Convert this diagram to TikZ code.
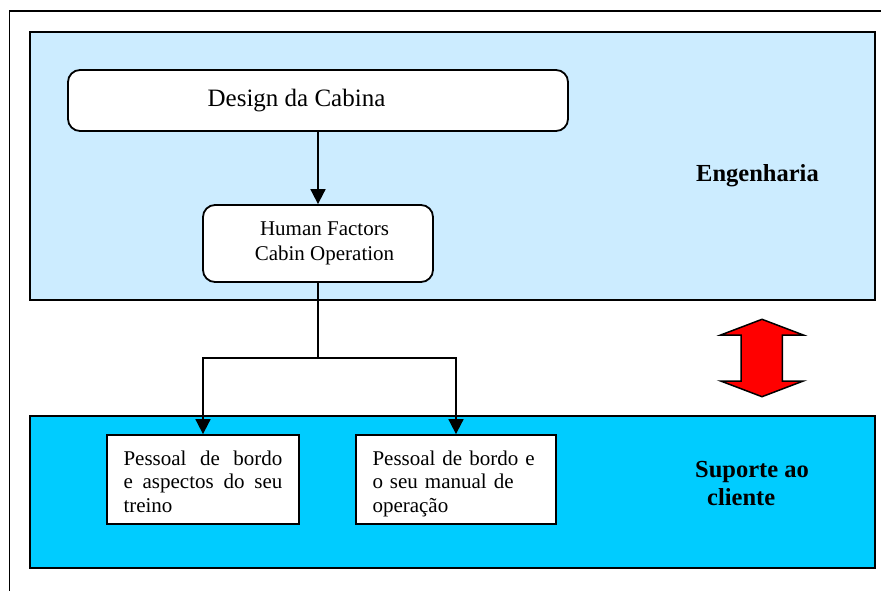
\documentclass[tikz,border=0pt]{standalone}
\usepackage{fontspec}
\setmainfont{Liberation Serif}
\usetikzlibrary{arrows.meta}
\definecolor{engblue}{HTML}{CCECFF}
\definecolor{supblue}{HTML}{00CCFF}
\begin{document}
\begin{tikzpicture}[x=1pt,y=-1pt,
  panel/.style={draw=black, line width=1.8pt, inner sep=0pt, minimum width=845pt},
  roundbox/.style={draw=black, fill=white, line width=1.8pt, rounded corners=12pt, inner sep=0pt},
  taskbox/.style={draw=black, fill=white, line width=1.8pt, inner sep=0pt,
    minimum height=89pt, align=left, text height=14pt, text depth=43pt,
    font=\fontsize{21}{23.5}\selectfont},
  flow/.style={line width=1.8pt, -{Triangle[width=15pt,length=15pt]}},
  link/.style={line width=1.8pt},
  area/.style={font=\bfseries\fontsize{24.5}{28}\selectfont, inner sep=0pt}]

\useasboundingbox (0,0) rectangle (881,591);

% page frame (top and left edges)
\draw[line width=1.3pt] (881,11) -- (9.5,11) -- (9.5,591);

% the two departments
\node[panel, fill=engblue, minimum height=268pt] (eng) at (452.5,166) {};
\node[panel, fill=supblue, minimum height=152pt] (sup) at (452.5,492) {};

% engineering chain
\node[roundbox, minimum width=500pt, minimum height=61pt, text height=17pt, text depth=4pt,
      font=\fontsize{25}{28}\selectfont] (design) at (318,100.5) {Design da Cabina\hspace*{43pt}};
\node[roundbox, minimum width=230pt, minimum height=77pt, align=center, text height=40pt,
      text depth=5.6pt, font=\fontsize{21}{25}\selectfont] (hf) at (318,243.5)
      {\hspace*{13pt}Human Factors\\\hspace*{13pt}Cabin Operation};

% customer support tasks (first box set justified)
\node[taskbox, minimum width=192pt, text width=159pt] (train) at (203,479.5)
  {\makebox[159pt]{Pessoal\hfill de\hfill bordo}\\\makebox[159pt]{e\hfill aspectos\hfill do\hfill seu}\\treino};
\node[taskbox, minimum width=200pt, text width=167pt] (manual) at (456,479.5)
  {Pessoal de bordo e\\o seu manual de\\operação};

% connectors
\coordinate (split) at (318,358);
\draw[flow] (design.south) -- (hf.north);
\draw[link] (hf.south) -- (split);
\draw[flow] (split) -| (train.north);
\draw[flow] (split) -| (manual.north);

% two-way exchange between the departments
\draw[fill=red, line width=1.5pt, line join=miter]
  (762,319.3) -- (803.3,335) -- (782.3,335) -- (782.3,381) -- (803.3,381) -- (762,396.7)
  -- (720.7,381) -- (741,381) -- (741,335) -- (720.7,335) -- cycle;

% department labels
\node[area, anchor=base] (englabel) at (757.5,182) {Engenharia};
\node[area, anchor=base west, align=left] (suplabel) at (695,505) {Suporte ao\\\hspace*{12pt}cliente};
\end{tikzpicture}
\end{document}
